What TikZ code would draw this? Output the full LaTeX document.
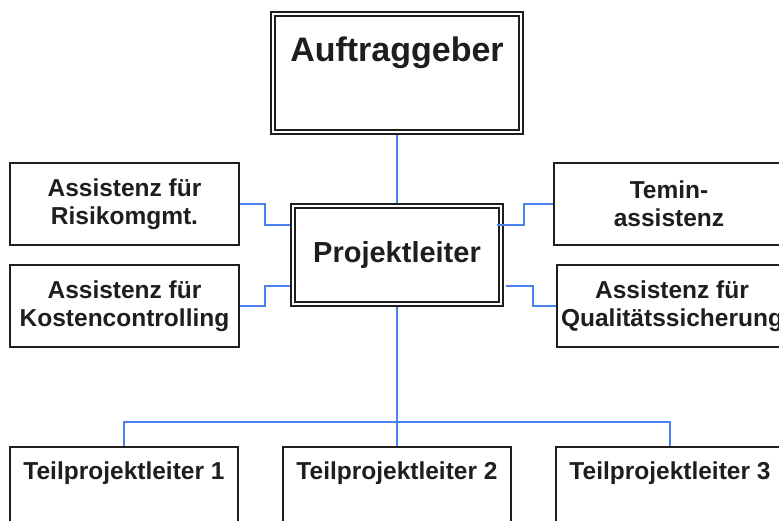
\documentclass[tikz,border=0pt]{standalone}
\usepackage{fontspec}
\setmainfont{Liberation Sans}
\usetikzlibrary{backgrounds}
\definecolor{connc}{HTML}{4A80F0}
\definecolor{ink}{HTML}{1E1E1E}
\begin{document}
\begin{tikzpicture}[x=1pt,y=-1pt,
  box/.style={draw=ink, fill=white, line width=1.8pt, rectangle, inner sep=0pt},
  dbox/.style={draw=ink, fill=white, line width=1.5pt, double=white, double distance=2.5pt, rectangle, inner sep=0pt},
  conn/.style={draw=connc, line width=1.8pt},
  txt/.style={font=\bfseries\fontsize{24.5}{28}\selectfont, text=ink, align=center}]
\useasboundingbox (0,0) rectangle (779,521);
\clip (0,0) rectangle (779,521);
% top
\node[dbox, minimum width=248pt, minimum height=118pt] (auf) at (397,73) {};
\node[font=\bfseries\fontsize{34}{40}\selectfont, text=ink] (auft) at (397,53) {Auftraggeber};
\node[dbox, minimum width=208pt, minimum height=98pt, font=\bfseries\fontsize{29}{34}\selectfont, text=ink] (pl) at (397,255) {Projektleiter};
% assistants
\node[box, txt, minimum width=229pt, minimum height=82pt] (risk) at (124.5,204) {Assistenz für\\Risikomgmt.};
\node[box, txt, minimum width=229pt, minimum height=82pt] (kost) at (124.5,306) {Assistenz für\\Kostencontrolling};
\node[box, txt, minimum width=230pt, minimum height=82pt] (term) at (669,204) {Temin-\\assistenz};
\node[box, txt, minimum width=230pt, minimum height=82pt] (qual) at (672,306) {Assistenz für\\Qualitätssicherung};
% sub project leads
\node[box, minimum width=228pt, minimum height=114pt] (tp1) at (124,504) {};
\node[box, minimum width=228pt, minimum height=114pt] (tp2) at (397,504) {};
\node[box, minimum width=228pt, minimum height=114pt] (tp3) at (670,504) {};
\node[txt] (tp1t) at (124,473) {Teilprojektleiter 1};
\node[txt] (tp2t) at (397,473) {Teilprojektleiter 2};
\node[txt] (tp3t) at (670,473) {Teilprojektleiter 3};
\coordinate (qstart) at (506,286);
\coordinate (tstart) at (497,225);
\begin{scope}[on background layer]
\draw[conn] (auf.south) -- (pl.north);
\draw[conn] (risk.east) -| (265,225) -- (pl.west |- 0,225);
\draw[conn] (kost.east) -| (265,286) -- (pl.west |- 0,286);
\draw[conn] (qstart) -- (533,286) |- (qual.west);
\draw[conn] (pl.south) -- (tp2.north);
\draw[conn] (tp1.north) |- (tp3.north |- 0,422) -- (tp3.north);
\end{scope}
\draw[conn] (tstart) -- (524,225) |- (term.west);
\end{tikzpicture}
\end{document}
